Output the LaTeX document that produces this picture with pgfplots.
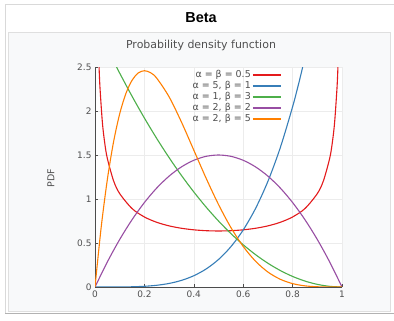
\documentclass[border=0pt]{standalone}
\usepackage{fontspec}
\setmainfont{DejaVu Sans}
\newfontfamily\titlefont{Liberation Sans}
\usepackage{pgfplots}
\pgfplotsset{compat=1.18}
\definecolor{cred}{RGB}{228,26,28}
\definecolor{cblue}{RGB}{55,126,184}
\definecolor{cgreen}{RGB}{77,175,74}
\definecolor{cpurple}{RGB}{152,78,163}
\definecolor{corange}{RGB}{255,127,0}
\definecolor{boxbg}{RGB}{248,249,250}
\definecolor{txt}{RGB}{80,80,80}
\begin{document}
\begin{tikzpicture}[x=1bp,y=1bp]
\useasboundingbox (0,0) rectangle (394,321);
\fill[white] (0,0) rectangle (394,321);
% outer box
\draw[gray!30,line width=0.8bp] (5,8) rectangle (420,317);
\fill[boxbg] (8.5,10) rectangle (390,289);
\draw[gray!25,line width=0.8bp] (8.5,10) rectangle (390,289);
\draw[gray!60,line width=1.6bp] (5,7.5) -- (394,7.5);
\node[font=\titlefont\fontsize{14.5}{16}\selectfont\bfseries] at (201,303) {Beta};
\node[font=\fontsize{11}{12}\selectfont,text=txt] at (201,276) {Probability density function};
\node[rotate=90,font=\fontsize{9.5}{11}\selectfont,text=txt] at (51,143) {PDF};
\begin{axis}[
  at={(95bp,34bp)}, anchor=south west,
  width=247bp, height=220bp, scale only axis,
  xmin=0, xmax=1, ymin=0, ymax=2.5,
  xtick={0,0.2,0.4,0.6,0.8,1},
  ytick={0,0.5,1,1.5,2,2.5},
  axis lines=left, axis line style={-,gray!60!black,line width=0.8bp},
  tick align=inside, major tick length=3bp,
  tick style={gray!60!black,line width=0.6bp},
  grid=major, major grid style={gray!15,line width=0.5bp},
  axis background/.style={fill=white},
  /pgf/number format/assume math mode=true,
  tick label style={font=\fontsize{9}{10}\selectfont,text=txt},
  legend style={at={(rel axis cs:0.757,0.99)}, anchor=north east, draw=none, fill=none,
    font=\fontsize{9.5}{10.5}\selectfont, text=txt, row sep=0.3bp, inner sep=0bp,
    nodes={inner sep=1bp}},
  legend cell align=right,
  legend plot pos=right,
  legend image code/.code={\draw[#1,line width=2bp] (4bp,0bp) -- (32bp,0bp);},
  every axis plot/.append style={line width=1.1bp, smooth},
  clip=true,
]
\addplot[cred] coordinates {
(0.0165,2.4987) (0.02,2.2737) (0.03,1.8660) (0.04,1.6244) (0.05,1.4605) (0.075,1.2085)
(0.1,1.0610) (0.15,0.8914) (0.2,0.7958) (0.25,0.7351) (0.3,0.6946) (0.35,0.6674)
(0.4,0.6497) (0.45,0.6398) (0.5,0.6366) (0.55,0.6398) (0.6,0.6497) (0.65,0.6674)
(0.7,0.6946) (0.75,0.7351) (0.8,0.7958) (0.85,0.8914) (0.9,1.0610) (0.925,1.2085)
(0.95,1.4605) (0.96,1.6244) (0.97,1.8660) (0.98,2.2737) (0.9835,2.4987)};
\addlegendentry{α = β = 0.5}
\addplot[cblue] coordinates {
(0,0) (0.1,0.0005) (0.15,0.00253) (0.2,0.008) (0.25,0.01953) (0.3,0.0405) (0.35,0.075)
(0.4,0.128) (0.45,0.20503) (0.5,0.3125) (0.55,0.45753) (0.6,0.648) (0.65,0.89253)
(0.7,1.2005) (0.75,1.58203) (0.8,2.048) (0.825,2.3163) (0.8409,2.5)};
\addlegendentry{α = 5, β = 1}
\addplot[cgreen] coordinates {
(0.0871,2.5) (0.1,2.43) (0.15,2.1675) (0.2,1.92) (0.25,1.6875) (0.3,1.47) (0.35,1.2675)
(0.4,1.08) (0.45,0.9075) (0.5,0.75) (0.55,0.6075) (0.6,0.48) (0.65,0.3675) (0.7,0.27)
(0.75,0.1875) (0.8,0.12) (0.85,0.0675) (0.9,0.03) (0.95,0.0075) (1,0)};
\addlegendentry{α = 1, β = 3}
\addplot[cpurple] coordinates {
(0,0) (0.05,0.285) (0.1,0.54) (0.15,0.765) (0.2,0.96) (0.25,1.125) (0.3,1.26) (0.35,1.365)
(0.4,1.44) (0.45,1.485) (0.5,1.5) (0.55,1.485) (0.6,1.44) (0.65,1.365) (0.7,1.26)
(0.75,1.125) (0.8,0.96) (0.85,0.765) (0.9,0.54) (0.95,0.285) (1,0)};
\addlegendentry{α = 2, β = 2}
\addplot[corange] coordinates {
(0,0) (0.025,0.6778) (0.05,1.2218) (0.075,1.6472) (0.1,1.9683) (0.125,2.1982) (0.15,2.3490)
(0.175,2.4321) (0.2,2.4576) (0.225,2.4351) (0.25,2.3730) (0.3,2.1609) (0.35,1.8743)
(0.4,1.5552) (0.45,1.2353) (0.5,0.9375) (0.55,0.6766) (0.6,0.4608) (0.65,0.2926)
(0.7,0.1701) (0.75,0.0879) (0.8,0.0384) (0.85,0.0129) (0.9,0.0027) (0.95,0.00018) (1,0)};
\addlegendentry{α = 2, β = 5}
\end{axis}
\end{tikzpicture}
\end{document}
